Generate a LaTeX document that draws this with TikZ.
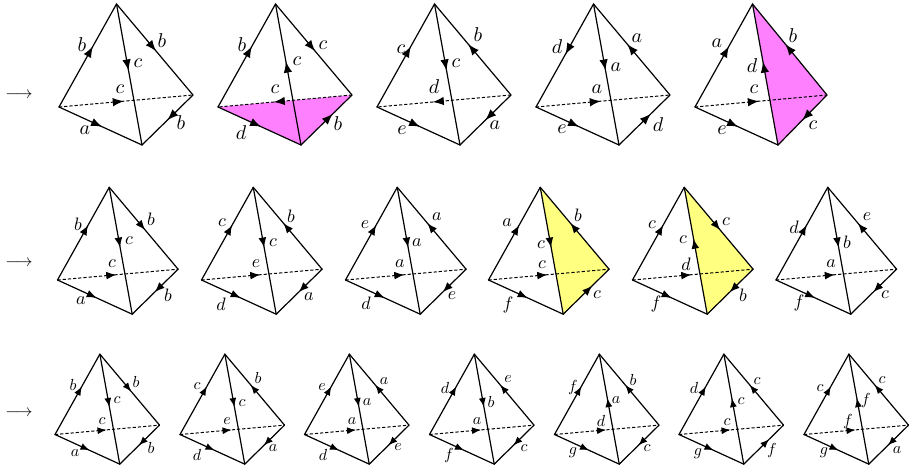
\documentclass[tikz,border=0pt]{standalone}
\usetikzlibrary{arrows.meta,decorations.markings,calc}
\definecolor{mag}{RGB}{255,128,255}
\definecolor{yel}{RGB}{255,255,128}
\newcommand\labscale{1.7}
\newcommand\tiplen{9}
\newcommand\tipwid{7}
\tikzset{
  edgeline/.style={line width=1.2pt,line cap=round,line join=round},
  dashedge/.style={line width=1pt,dash pattern=on 3.2pt off 2pt},
  midarrow/.style={postaction={decorate,decoration={markings,
     mark=at position #1 with {\arrow[xshift=4.5pt,solid]{Latex[length=\tiplen pt,width=\tipwid pt]}}}}},
  lab/.style={inner sep=0pt,scale=\labscale},
  shortarrow/.style={inner sep=0pt,scale=1.7}
}
\newcommand\curtet{}
\newcommand\tet[4]{% name, x, y, scale of the left vertex
  \renewcommand\curtet{#1}%
  \coordinate (#1L) at (#2,#3);
  \coordinate (#1T) at ({#2+57.5*#4},{#3-103*#4});
  \coordinate (#1R) at ({#2+134*#4},{#3-12*#4});
  \coordinate (#1B) at ({#2+83*#4},{#3+38*#4});
}
\newcommand\edg[6][edgeline]{%
  \draw[#1,midarrow=#4] (\curtet#2) -- (\curtet#3);
  \node[lab] (\curtet#2#3n) at (#6) {$#5$};
}
\newcommand\LTf[2]{\edg{L}{T}{.55}{#1}{#2}}
\newcommand\LTr[2]{\edg{T}{L}{.45}{#1}{#2}}
\newcommand\TRf[2]{\edg{T}{R}{.48}{#1}{#2}}
\newcommand\TRr[2]{\edg{R}{T}{.52}{#1}{#2}}
\newcommand\TBf[2]{\edg{T}{B}{.44}{#1}{#2}}
\newcommand\TBr[2]{\edg{B}{T}{.56}{#1}{#2}}
\newcommand\LRf[2]{\edg[dashedge]{L}{R}{.45}{#1}{#2}}
\newcommand\LRr[2]{\edg[dashedge]{R}{L}{.55}{#1}{#2}}
\newcommand\LBf[2]{\edg{L}{B}{.47}{#1}{#2}}
\newcommand\BRf[2]{\edg{B}{R}{.56}{#1}{#2}}
\newcommand\BRr[2]{\edg{R}{B}{.44}{#1}{#2}}
\begin{document}
\begin{tikzpicture}[x=1pt,y=-1pt]
\useasboundingbox (0,0) rectangle (915,465);
% arrows at the left
\node[shortarrow] (ar1) at (19,95.5) {$\longrightarrow$};
\node[shortarrow] (ar2) at (19,263.5) {$\longrightarrow$};
\node[shortarrow] (ar3) at (19,413.5) {$\longrightarrow$};
% ---- row 1
\renewcommand\labscale{2.0}
\renewcommand\tiplen{11}\renewcommand\tipwid{8.5}
\tet{p}{59}{107}{1}
\LTf{b}{82,45}\TRf{b}{162,41}\TBf{c}{138,63}\LRf{c}{120,89}\LBf{a}{85,130}\BRr{b}{181,123}
\tet{q}{218}{107}{1}
\fill[mag] (qL) -- (qR) -- (qB) -- cycle;
\LTf{b}{242,45}\TRf{c}{323,45}\TBr{c}{297,61}\LRr{c}{275,89}\LBf{d}{241,133}\BRf{b}{338,124}
\tet{r}{377}{107}{1}
\LTf{c}{401,49}\TRr{b}{478,35}\TBf{c}{456,63}\LRr{d}{434,87}\LBf{e}{402,130}\BRr{a}{495,125}
\tet{s}{536}{107}{1}
\LTr{d}{557,47}\TRr{a}{637,38}\TBf{a}{616,67}\LRf{a}{597,89}\LBf{e}{562,129}\BRf{d}{658,125}
\tet{t}{695}{107}{1}
\coordinate (tR) at (827,95);
\fill[mag] (tT) -- (tR) -- (tB) -- cycle;
\LTf{a}{717,43}\TRr{b}{793,36}\TBr{d}{752,66}\LRf{c}{754,89}\LBf{e}{722,130}\BRr{c}{813,125}
% ---- row 2
\renewcommand\labscale{1.8}
\renewcommand\tiplen{10}\renewcommand\tipwid{7.8}
\tet{ua}{57.5}{280}{.9}
\LTf{b}{78,224}\TRf{b}{151,219}\TBf{c}{129,241}\LRf{c}{112,264}\LBf{a}{81,301}\BRr{b}{168,295}
\tet{ub}{201.5}{280}{.9}
\LTf{c}{222,223}\TRr{b}{291,216}\TBf{c}{273,243}\LRf{e}{256,264}\LBf{d}{221,304}\BRr{a}{309,297}
\tet{uc}{345.5}{280}{.9}
\LTf{e}{365,225}\TRr{a}{437,217}\TBf{a}{417,243}\LRf{a}{400,264}\LBf{d}{366,303}\BRr{e}{452,296}
\tet{ud}{488.5}{280}{.9}
\fill[yel] (udT) -- (udR) -- (udB) -- cycle;
\LTf{a}{507,223}\TRr{b}{578,215}\TBf{c}{541,245}\LRf{c}{542,265}\LBf{f}{508,305}\BRf{c}{597,295}
\tet{ue}{632.5}{280}{.9}
\fill[yel] (ueT) -- (ueR) -- (ueB) -- cycle;
\LTf{c}{652,225}\TRf{c}{726,222}\TBr{c}{683,240}\LRf{d}{686,264}\LBf{f}{656,304}\BRr{b}{743,295}
\tet{uf}{776}{280}{.9}
\LTf{d}{794,227}\TRr{e}{867,217}\TBf{b}{847,242}\LRf{a}{831,264}\LBf{f}{799,303}\BRr{c}{885,295}
% ---- row 3
\renewcommand\labscale{1.6}
\renewcommand\tiplen{9}\renewcommand\tipwid{7}
\tet{va}{55}{434.5}{.78}
\LTf{b}{73,385}\TRf{b}{136,382}\TBf{c}{117,400}\LRf{c}{102,421}\LBf{a}{75,453}\BRr{b}{151,448}
\tet{vb}{180}{434.5}{.78}
\LTf{c}{197,386}\TRr{b}{258,378}\TBf{c}{242,403}\LRf{e}{227,421}\LBf{d}{197,455}\BRr{a}{273,448}
\tet{vc}{304.5}{434.5}{.78}
\LTf{e}{322,387}\TRr{a}{384,381}\TBf{a}{367,402}\LRf{a}{352,421}\LBf{d}{323,455}\BRr{e}{398,447}
\tet{vd}{429.5}{434.5}{.78}
\LTf{d}{445,388}\TRr{e}{508,379}\TBf{b}{491,402}\LRf{a}{477,421}\LBf{f}{449,455}\BRr{c}{524,448}
\tet{ve}{554.5}{434.5}{.78}
\LTf{f}{573,387}\TRr{b}{633,380}\TBr{a}{616,400}\LRf{d}{601,421}\LBf{g}{573,453}\BRr{c}{647,448}
\tet{vf}{679}{434.5}{.78}
\LTf{d}{694,388}\TRr{c}{757,381}\TBr{c}{741,401}\LRf{c}{727,422}\LBf{g}{698,454}\BRf{f}{772,450}
\tet{vg}{804}{434.5}{.78}
\LTf{c}{820,388}\TRr{c}{882,380}\TBr{f}{866,400}\LRf{f}{848,421}\LBf{g}{824,453}\BRr{a}{897,450}
\end{tikzpicture}
\end{document}
